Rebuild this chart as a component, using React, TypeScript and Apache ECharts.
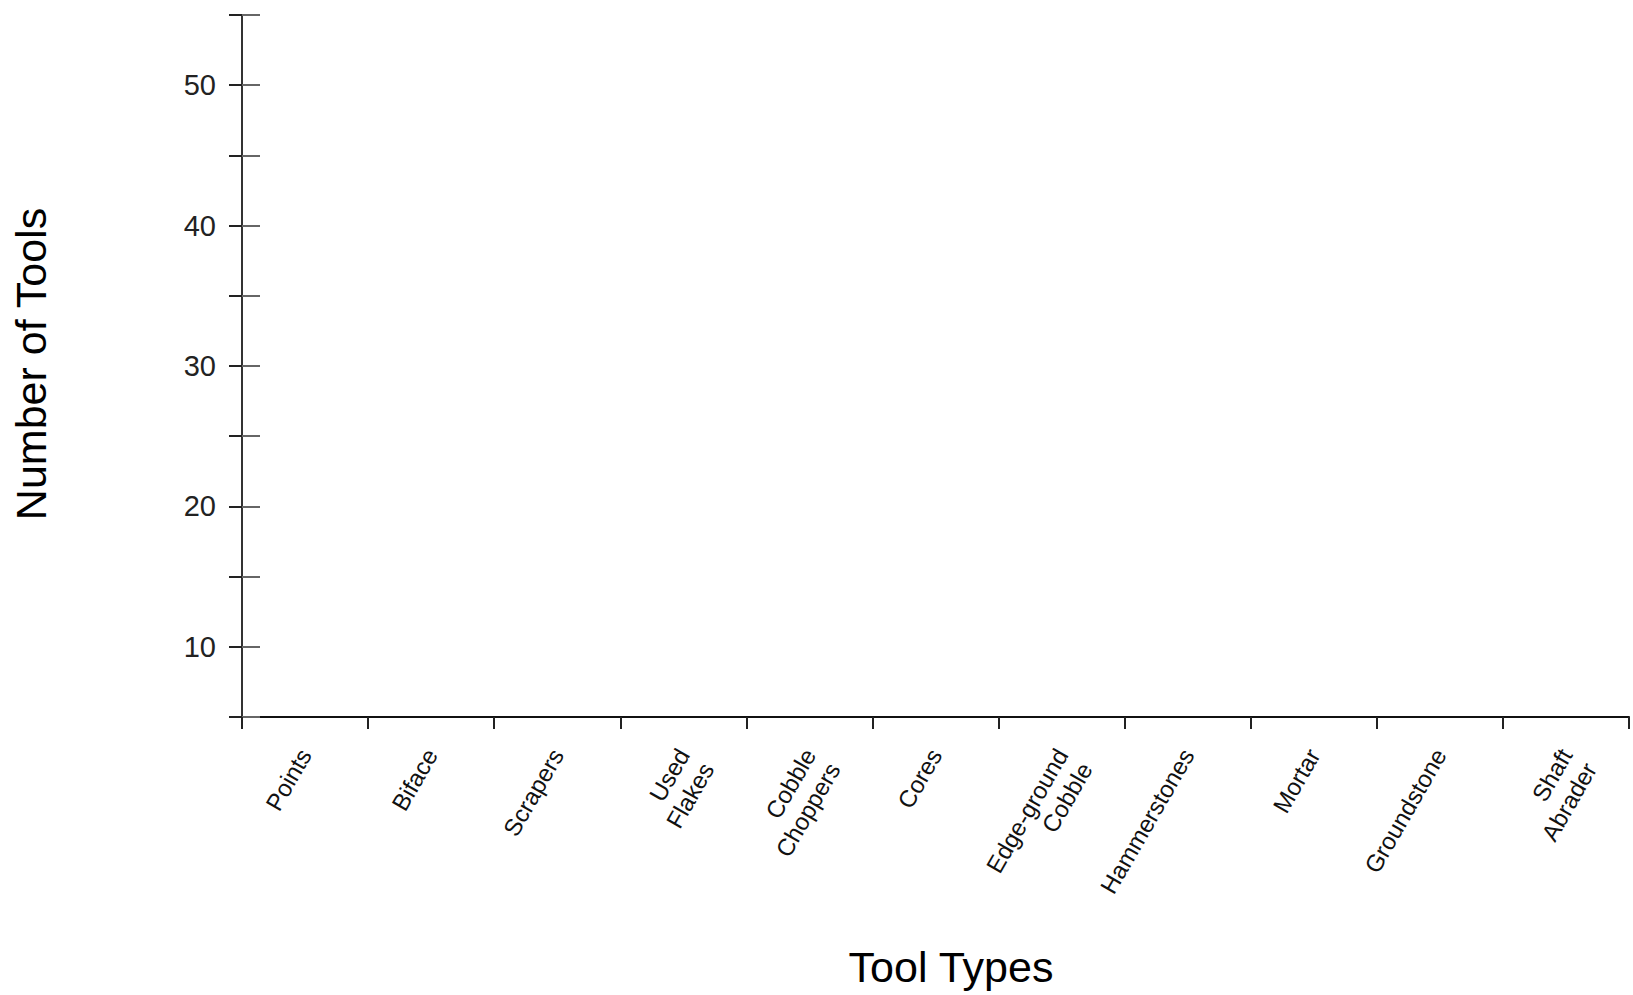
import React, { useEffect, useRef } from "react";
import * as echarts from "echarts";

const categories = [
  "Points",
  "Biface",
  "Scrapers",
  "Used\nFlakes",
  "Cobble\nChoppers",
  "Cores",
  "Edge-ground\nCobble",
  "Hammerstones",
  "Mortar",
  "Groundstone",
  "Shaft\nAbrader",
];

// Bars sit on the baseline (no visible height in the reference)
const toolCounts = [5, 5, 5, 5, 5, 5, 5, 5, 5, 5, 5];

const yMin = 5;
const yMax = 55;
const yStep = 5;

const xTitle = "Tool Types";
const yTitle = "Number of Tools";

const FONT = "'Liberation Sans', Arial, sans-serif";

export default function App() {
  const ref = useRef<HTMLDivElement>(null);

  useEffect(() => {
    if (!ref.current) return;
    const chart = echarts.init(ref.current, undefined, { renderer: "svg" });
    chart.setOption({
      animation: false,
      backgroundColor: "#ffffff",
      grid: { left: 242, right: 4, top: 15, bottom: 278, containLabel: false },
      xAxis: {
        type: "category",
        data: categories,
        boundaryGap: true,
        axisLine: { show: true, lineStyle: { color: "#111", width: 2 } },
        axisTick: {
          show: true,
          alignWithLabel: false,
          interval: 0,
          length: 12,
          lineStyle: { color: "#222", width: 2 },
        },
        axisLabel: {
          interval: 0,
          rotate: 60,
          margin: 6,
          verticalAlign: "top",
          padding: [0, 24, 0, 0],
          fontFamily: FONT,
          fontSize: 24,
          lineHeight: 28,
          color: "#111",
        },
        splitLine: { show: false },
      },
      yAxis: [
        {
          type: "value",
          min: yMin,
          max: yMax,
          interval: yStep,
          position: "left",
          axisLine: { show: true, lineStyle: { color: "#333", width: 2 } },
          axisTick: { show: true, inside: false, length: 13, lineStyle: { color: "#222", width: 2 } },
          axisLabel: {
            margin: 26,
            fontFamily: FONT,
            fontSize: 29,
            color: "#222",
            formatter: (v: number) => (v % 10 === 0 && v !== yMax ? String(v) : ""),
          },
          splitLine: { show: false },
        },
        {
          type: "value",
          min: yMin,
          max: yMax,
          interval: yStep,
          position: "left",
          offset: 0,
          axisLine: { show: false },
          axisTick: { show: true, inside: true, length: 18, lineStyle: { color: "#666", width: 2 } },
          axisLabel: { show: false },
          splitLine: { show: false },
        },
      ],
      series: [
        {
          type: "bar",
          data: toolCounts,
          barWidth: "44%",
          yAxisIndex: 0,
          itemStyle: { color: "rgba(0,0,0,0)", borderColor: "#666", borderWidth: 2 },
        },
      ],
      graphic: [
        {
          type: "text",
          x: 951,
          y: 967,
          style: {
            text: xTitle,
            fontFamily: FONT,
            fontSize: 43,
            fill: "#000",
            align: "center",
            verticalAlign: "middle",
          },
        },
        {
          type: "text",
          x: 31,
          y: 364,
          rotation: Math.PI / 2,
          style: {
            text: yTitle,
            fontFamily: FONT,
            fontSize: 43,
            fill: "#000",
            align: "center",
            verticalAlign: "middle",
          },
        },
      ],
    });
    return () => chart.dispose();
  }, []);

  return (
    <div
      ref={ref}
      style={{ position: "fixed", left: 0, top: 0, width: 1633, height: 995, background: "#fff" }}
    />
  );
}
